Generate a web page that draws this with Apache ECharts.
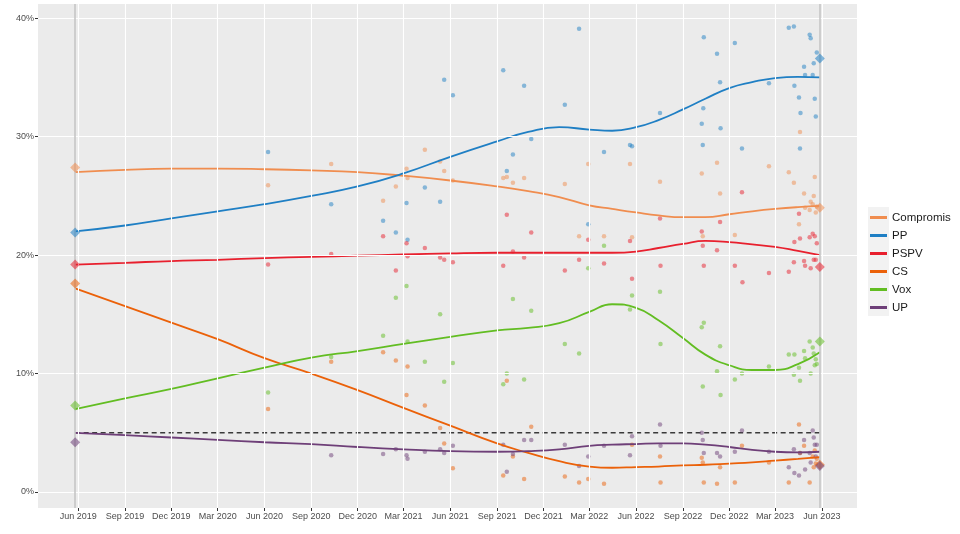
<!DOCTYPE html>
<html>
<head>
<meta charset="utf-8">
<script src="https://cdn.jsdelivr.net/npm/echarts@6/dist/echarts.min.js"></script>
<style>
  html, body { margin: 0; padding: 0; background: #fff; }
  #chart { width: 960px; height: 534px; }
</style>
</head>
<body>
<div id="chart"></div>
<script>
// partits i colors
const parties = ['Compromis', 'PP', 'PSPV', 'CS', 'Vox', 'UP'];
const partyColors = ['#F08D4F', '#1F7FC4', '#E8202E', '#EB6109', '#62BD22', '#6E3F78'];

// eleccions (rombes)
const electionDates = ['2019-05-26', '2023-05-28'];
const results2019 = [27.4, 21.9, 19.2, 17.6, 7.3, 4.2];
const results2023 = [24.0, 36.6, 19.0, 2.3, 12.7, 2.2];
const threshold = 5;

// enquestes
const pollDates = [
  '2020-06-08', '2020-10-10', '2021-01-20', '2021-02-14', '2021-03-07', '2021-03-09',
  '2021-04-12', '2021-05-12', '2021-05-20', '2021-06-06', '2021-09-13', '2021-09-20',
  '2021-10-02', '2021-10-24', '2021-11-07', '2022-01-12', '2022-02-09', '2022-02-27',
  '2022-03-30', '2022-05-20', '2022-05-24', '2022-07-18', '2022-07-19', '2022-10-08',
  '2022-10-10', '2022-10-11', '2022-10-12', '2022-11-07', '2022-11-13', '2022-11-14',
  '2022-12-12', '2022-12-26', '2022-12-27', '2023-02-17', '2023-03-28', '2023-04-07',
  '2023-04-08', '2023-04-17', '2023-04-19', '2023-04-20', '2023-04-27', '2023-04-29',
  '2023-05-08', '2023-05-10', '2023-05-14', '2023-05-16', '2023-05-18', '2023-05-20',
  '2023-05-22'
];
const pollCompromis = [
  25.9, 27.7, 24.6, 25.8, 27.3, 26.5, 28.9, 27.9, 27.1, 26.3, 26.5, 26.6,
  26.1, 26.5, null, 26.0, 21.6, 27.7, 21.6, 27.7, 21.5, 26.2, null, 26.9,
  21.6, null, null, 27.8, 25.2, null, 21.7, null, null, 27.5, 27.0, 26.1,
  null, 22.6, 30.4, null, 25.2, 24.0, 23.8, 24.5, 24.3, 25.0, 26.6, 23.6,
  24.1
];
const pollPP = [
  28.7, 24.3, 22.9, 21.9, 24.4, 21.3, 25.7, 24.5, 34.8, 33.5, 35.6, 27.1,
  28.5, 34.3, 29.8, 32.7, 39.1, 22.6, 28.7, 29.3, 29.2, 32.0, null, 31.1,
  29.3, 32.4, 38.4, 37.0, 34.6, 30.7, 37.9, 29.0, null, 34.5, 39.2, 39.3,
  34.3, 33.3, 29.0, 32.0, 35.9, 35.2, 38.6, 38.3, 35.2, 36.2, 33.2, 31.7,
  37.1
];
const pollPSPV = [
  19.2, 20.1, 21.6, 18.7, 21.0, 19.9, 20.6, 19.8, 19.6, 19.4, 19.1, 23.4,
  20.3, 19.8, 21.9, 18.7, 19.6, 21.3, 19.3, 21.2, 18.0, 23.1, 19.1, 22.0,
  20.8, null, 19.1, 20.4, 22.8, null, 19.1, 25.3, 17.7, 18.5, 18.6, 19.4,
  21.1, 23.5, 21.4, null, 19.5, 19.1, 21.5, 18.9, 21.8, 19.6, 21.6, 19.6,
  21.0
];
const pollCS = [
  7.0, 11.0, 11.8, 11.1, 8.2, 10.6, 7.3, 5.4, 4.1, 2.0, 1.4, 9.4,
  3.0, 1.1, 5.5, 1.3, 0.8, 1.1, 0.7, null, 4.0, 3.0, 0.8, 2.9,
  2.5, null, 0.8, 0.7, 2.1, null, 0.8, 3.9, null, 2.5, 0.8, null,
  null, 5.7, 3.3, null, 3.9, null, 0.8, null, 3.0, 2.1, 3.5, 2.4,
  2.8
];
const pollVox = [
  8.4, 11.4, 13.2, 16.4, 17.4, 12.7, 11.0, 15.0, 9.3, 10.9, 9.1, 10.0,
  16.3, 9.5, 15.3, 12.5, 11.7, 18.9, 20.8, 15.4, 16.6, 16.9, 12.5, 13.9,
  8.9, null, 14.3, 10.2, 12.3, 8.2, 9.5, 10.0, null, 10.6, 11.6, 9.9,
  11.6, 10.5, 9.4, null, 11.9, 11.3, 12.7, 10.0, 12.2, 11.7, 10.7, 11.2,
  10.8
];
const pollUP = [
  null, 3.1, 3.2, 3.6, 3.1, 2.8, 3.4, 3.6, 3.3, 3.9, 4.0, 1.7,
  3.2, 4.4, 4.4, 4.0, 2.2, 3.0, 3.9, 3.1, 4.7, 5.7, 3.9, 5.0,
  4.4, null, 3.3, 3.3, 3.0, null, 3.4, 5.2, null, 3.4, 2.1, 3.6,
  1.6, 1.4, 3.3, null, 4.4, 1.9, 3.3, 2.5, 5.2, 4.6, 4.0, 3.0,
  4.0
];

// tendència suavitzada (llegida del gràfic)
const trendDates = [
  '2019-05-26', '2019-09-01', '2019-12-01', '2020-03-01', '2020-06-01', '2020-09-01',
  '2020-12-01', '2021-03-01', '2021-06-01', '2021-09-01', '2021-11-01', '2022-01-01',
  '2022-03-01', '2022-04-15', '2022-06-01', '2022-07-15', '2022-09-01', '2022-10-15',
  '2022-12-01', '2023-01-15', '2023-03-01', '2023-04-15', '2023-05-28'
];
const trendCompromis = [27.0, 27.2, 27.3, 27.3, 27.25, 27.15, 27.0, 26.7, 26.3, 25.8, 25.4, 24.9,
  24.2, 23.9, 23.6, 23.35, 23.2, 23.2, 23.45, 23.7, 23.9, 24.05, 24.15];
const trendPP = [22.0, 22.5, 23.1, 23.7, 24.3, 25.0, 25.8, 26.9, 28.3, 29.6, 30.4, 30.8,
  30.6, 30.5, 30.8, 31.4, 32.3, 33.2, 34.1, 34.6, 34.95, 35.05, 35.0];
const trendPSPV = [19.2, 19.35, 19.5, 19.6, 19.75, 19.85, 19.95, 20.05, 20.15, 20.2, 20.2, 20.2,
  20.2, 20.2, 20.3, 20.6, 20.95, 21.2, 21.1, 20.9, 20.7, 20.35, 20.0];
const trendCS = [17.2, 15.7, 14.3, 12.9, 11.3, 10.0, 8.6, 7.1, 5.6, 4.1, 3.3, 2.6,
  2.15, 2.05, 2.1, 2.15, 2.25, 2.3, 2.4, 2.5, 2.65, 2.8, 2.95];
const trendVox = [7.0, 7.9, 8.7, 9.6, 10.5, 11.35, 11.9, 12.5, 13.1, 13.65, 13.85, 14.25,
  15.2, 15.85, 15.55, 14.5, 13.0, 11.6, 10.7, 10.3, 10.3, 10.8, 11.8];
const trendUP = [5.0, 4.8, 4.6, 4.4, 4.2, 4.05, 3.8, 3.6, 3.45, 3.4, 3.45, 3.6,
  3.9, 4.0, 4.05, 4.1, 4.1, 4.0, 3.8, 3.55, 3.4, 3.35, 3.4];

// eixos
const tickDates = [
  '2019-06-01', '2019-09-01', '2019-12-01', '2020-03-01', '2020-06-01', '2020-09-01',
  '2020-12-01', '2021-03-01', '2021-06-01', '2021-09-01', '2021-12-01', '2022-03-01',
  '2022-06-01', '2022-09-01', '2022-12-01', '2023-03-01', '2023-06-01'
];
const yTicks = [0, 10, 20, 30, 40];
const xRange = ['2019-03-14', '2023-08-09'];
const yRange = [-1.35, 41.2];

const pollValues = [pollCompromis, pollPP, pollPSPV, pollCS, pollVox, pollUP];
const trendValues = [trendCompromis, trendPP, trendPSPV, trendCS, trendVox, trendUP];
const monthNames = ['Jan', 'Feb', 'Mar', 'Apr', 'May', 'Jun', 'Jul', 'Aug', 'Sep', 'Oct', 'Nov', 'Dec'];

function ts(s) {
  const p = s.split('-').map(Number);
  return Date.UTC(p[0], p[1] - 1, p[2]);
}

const font = "'Liberation Sans', Arial, sans-serif";
const series = [];

// quadrícula blanca (a les posicions de les marques)
series.push({
  type: 'line',
  name: 'grid',
  data: [],
  z: 1,
  markLine: {
    silent: true,
    symbol: 'none',
    label: { show: false },
    animation: false,
    lineStyle: { color: '#FFFFFF', width: 1.1, type: 'solid' },
    data: tickDates.map(d => ({ xAxis: ts(d) })).concat(yTicks.map(v => ({ yAxis: v })))
  }
});

// línia del 5% i línies verticals de les eleccions
series.push({
  type: 'line',
  name: 'threshold',
  data: electionDates.map(d => [ts(d), threshold]),
  symbol: 'none',
  lineStyle: { color: '#3a3a3a', width: 1.5, type: [5, 3.5] },
  z: 2,
  markLine: {
    silent: true,
    symbol: 'none',
    label: { show: false },
    lineStyle: { color: '#C6C6C6', width: 1.6, type: 'solid' },
    data: electionDates.map(d => ({ xAxis: ts(d) }))
  }
});

parties.forEach((p, i) => {
  series.push({
    type: 'scatter',
    name: p + ' polls',
    data: pollDates.map((d, j) => [ts(d), pollValues[i][j]]).filter(v => v[1] != null),
    symbolSize: 4.5,
    itemStyle: { color: partyColors[i], opacity: 0.5 },
    z: 3
  });
});

parties.forEach((p, i) => {
  series.push({
    type: 'line',
    name: p,
    data: trendDates.map((d, j) => [ts(d), trendValues[i][j]]),
    smooth: 0.5,
    showSymbol: false,
    symbol: 'none',
    color: partyColors[i],
    lineStyle: { color: partyColors[i], width: 1.8 },
    z: 4
  });
});

parties.forEach((p, i) => {
  series.push({
    type: 'scatter',
    name: p + ' result',
    data: [[ts(electionDates[0]), results2019[i]], [ts(electionDates[1]), results2023[i]]],
    symbol: 'diamond',
    symbolSize: 10,
    itemStyle: { color: partyColors[i], opacity: 0.55 },
    z: 5
  });
});

const chart = echarts.init(document.getElementById('chart'));
chart.setOption({
  animation: false,
  textStyle: { fontFamily: font },
  grid: {
    left: 38, right: 103, top: 4, bottom: 26,
    show: true, backgroundColor: '#EBEBEB', borderWidth: 0
  },
  legend: {
    orient: 'vertical',
    left: 870,
    top: 211,
    padding: 0,
    itemWidth: 17,
    itemHeight: 3,
    itemGap: 5,
    icon: 'rect',
    data: parties,
    selectedMode: false,
    textStyle: { fontFamily: font, fontSize: 11.5, color: '#1a1a1a', lineHeight: 13 }
  },
  graphic: [{
    type: 'rect',
    left: 868, top: 207, z: -1,
    shape: { width: 21, height: 109 },
    style: { fill: '#F2F2F2' }
  }],
  xAxis: {
    type: 'value',
    min: ts(xRange[0]),
    max: ts(xRange[1]),
    axisLine: { show: false, onZero: false },
    axisTick: {
      show: true, length: 3,
      customValues: tickDates.map(ts),
      lineStyle: { color: '#333' }
    },
    axisLabel: {
      customValues: tickDates.map(ts),
      margin: 4,
      fontSize: 9, color: '#4D4D4D', fontFamily: font,
      formatter: v => {
        const d = new Date(v);
        return monthNames[d.getUTCMonth()] + ' ' + d.getUTCFullYear();
      }
    },
    splitLine: { show: false }
  },
  yAxis: {
    type: 'value',
    min: yRange[0],
    max: yRange[1],
    axisLine: { show: false, onZero: false },
    axisTick: {
      show: true, length: 3,
      customValues: yTicks,
      lineStyle: { color: '#333' }
    },
    axisLabel: {
      customValues: yTicks,
      margin: 4,
      fontSize: 9, color: '#4D4D4D', fontFamily: font,
      formatter: v => v + '%'
    },
    splitLine: { show: false }
  },
  series: series
});
</script>
</body>
</html>
